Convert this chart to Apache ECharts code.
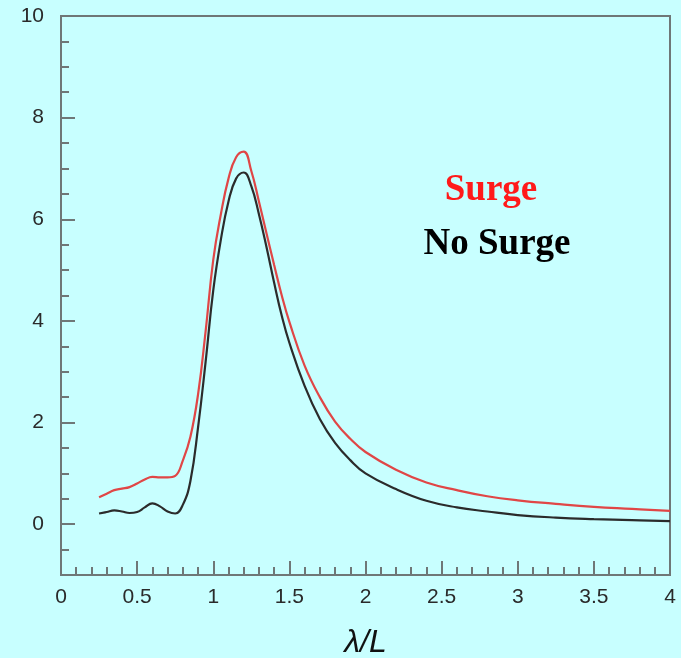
<!DOCTYPE html>
<html>
<head>
<meta charset="utf-8">
<script src="https://cdn.jsdelivr.net/npm/echarts@6/dist/echarts.min.js"></script>
<style>
  html, body { margin: 0; padding: 0; background: #c8ffff; }
  #chart { width: 681px; height: 658px; }
</style>
</head>
<body>
<div id="chart"></div>
<script>
// Wavelength to ship length ratio
const lambdaL = [0.25, 0.3, 0.35, 0.4, 0.45, 0.5, 0.55, 0.6, 0.65, 0.7, 0.75, 0.8, 0.85, 0.9, 0.95,
  1.0, 1.05, 1.1, 1.15, 1.2, 1.25, 1.3, 1.35, 1.4, 1.45, 1.5, 1.6, 1.7, 1.8, 1.9, 2.0,
  2.2, 2.4, 2.6, 2.8, 3.0, 3.25, 3.5, 3.75, 4.0];

// Response with surge motion included
const surge = [0.53, 0.60, 0.67, 0.70, 0.73, 0.80, 0.88, 0.93, 0.92, 0.92, 0.95, 1.25, 1.72, 2.55, 3.8,
  5.2, 6.1, 6.8, 7.22, 7.33, 6.95, 6.35, 5.72, 5.1, 4.5, 3.98, 3.12, 2.5, 2.02, 1.68, 1.42,
  1.07, 0.82, 0.67, 0.55, 0.47, 0.40, 0.34, 0.30, 0.26];

// Response without surge motion
const noSurge = [0.21, 0.24, 0.27, 0.25, 0.22, 0.24, 0.33, 0.41, 0.35, 0.25, 0.21, 0.38, 0.85, 1.9, 3.2,
  4.6, 5.6, 6.35, 6.8, 6.92, 6.65, 6.1, 5.45, 4.75, 4.1, 3.57, 2.72, 2.07, 1.6, 1.26, 1.0,
  0.69, 0.46, 0.33, 0.25, 0.18, 0.13, 0.10, 0.08, 0.06];

const yMajorTicks = [0, 2, 4, 6, 8, 10];

const axisGrey = '#6f7777';
const labelStyle = { color: '#2a2a2a', fontSize: 21, fontFamily: 'Liberation Sans, Arial, sans-serif' };

const chart = echarts.init(document.getElementById('chart'));
chart.setOption({
  backgroundColor: '#c8ffff',
  animation: false,
  grid: {
    left: 61, right: 11, top: 16, bottom: 83,
    outerBoundsMode: 'none', containLabel: false,
    show: true, borderColor: axisGrey, borderWidth: 2, backgroundColor: 'transparent'
  },
  xAxis: {
    type: 'value', min: 0, max: 4, interval: 0.5,
    axisLine: { show: true, onZero: false, lineStyle: { color: axisGrey, width: 2 } },
    axisTick: { show: true, inside: true, length: 14, lineStyle: { color: axisGrey, width: 2 } },
    minorTick: { show: true, splitNumber: 5, length: 8, lineStyle: { color: axisGrey, width: 2 } },
    splitLine: { show: false },
    axisLabel: Object.assign({ margin: 12 }, labelStyle),
    name: 'λ/L', nameLocation: 'middle', nameGap: 52,
    nameTextStyle: { fontSize: 32, fontStyle: 'italic', color: '#111', fontFamily: 'Liberation Sans, Arial, sans-serif' }
  },
  yAxis: [
    {
      type: 'value', min: -1, max: 10, interval: 0.5, position: 'left',
      axisLine: { show: true, onZero: false, lineStyle: { color: axisGrey, width: 2 } },
      axisTick: { show: true, inside: true, length: 8, lineStyle: { color: axisGrey, width: 2 } },
      splitLine: { show: false },
      axisLabel: Object.assign({ margin: 17, customValues: yMajorTicks }, labelStyle)
    },
    {
      type: 'value', min: -1, max: 10, position: 'left', offset: 0,
      axisLine: { show: false },
      axisTick: { show: true, inside: true, length: 14, customValues: yMajorTicks, lineStyle: { color: axisGrey, width: 2 } },
      splitLine: { show: false },
      axisLabel: { show: false }
    }
  ],
  series: [
    {
      name: 'Surge', type: 'line', yAxisIndex: 0, smooth: 0.45, showSymbol: false,
      data: lambdaL.map((x, i) => [x, surge[i]]),
      lineStyle: { color: '#e04646', width: 2.2 }, z: 3
    },
    {
      name: 'No Surge', type: 'line', yAxisIndex: 0, smooth: 0.45, showSymbol: false,
      data: lambdaL.map((x, i) => [x, noSurge[i]]),
      lineStyle: { color: '#2b2b2b', width: 2.2 }, z: 4
    }
  ],
  graphic: [
    {
      type: 'text', x: 491, y: 190,
      style: { text: 'Surge', fill: '#ff1a1a', font: 'bold 37px "Liberation Serif", "Times New Roman", serif', textAlign: 'center', textVerticalAlign: 'middle' }
    },
    {
      type: 'text', x: 497, y: 244,
      style: { text: 'No Surge', fill: '#000', font: 'bold 37px "Liberation Serif", "Times New Roman", serif', textAlign: 'center', textVerticalAlign: 'middle' }
    }
  ]
});
</script>
</body>
</html>
